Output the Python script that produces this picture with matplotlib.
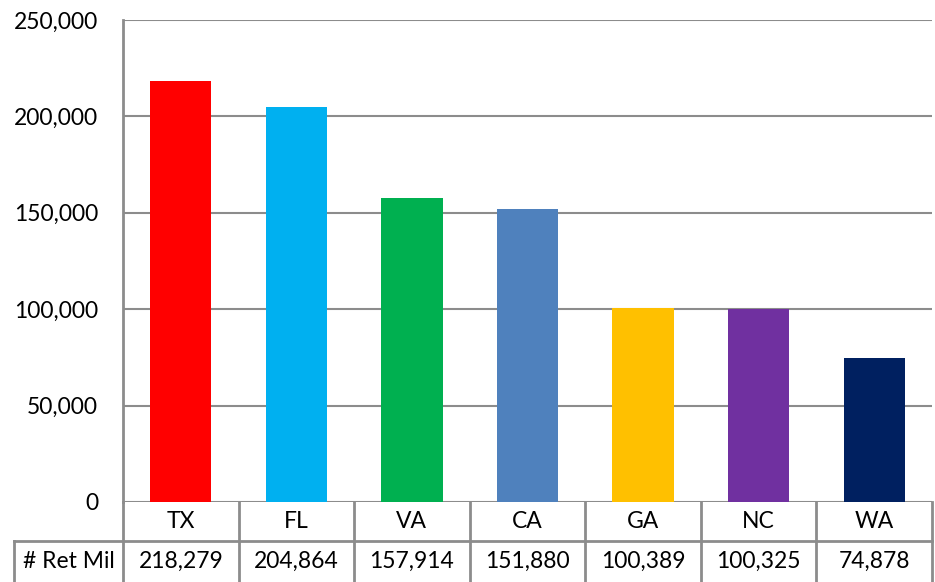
import matplotlib
matplotlib.use("Agg")
import matplotlib.pyplot as plt
from matplotlib.ticker import FuncFormatter

states = ["TX", "FL", "VA", "CA", "GA", "NC", "WA"]
retirees = [218279, 204864, 157914, 151880, 100389, 100325, 74878]
colors = ["#FF0000", "#00B0F0", "#00B050", "#4F81BD", "#FFC000", "#7030A0", "#002060"]
row_label = "# Ret Mil"
yticks = [0, 50000, 100000, 150000, 200000, 250000]

plt.rcParams["font.family"] = ["Lato", "DejaVu Sans"]
GRID = "#8c8c8c"
FS = 16.5

W, H = 935, 582
fig = plt.figure(figsize=(W / 100, H / 100), dpi=100)

# plot area in pixels: left 123, right 932, top 20, bottom 502
ax = fig.add_axes([123 / W, (H - 502) / H, (932 - 123) / W, (502 - 20) / H])
x = range(len(states))
ax.bar(x, retirees, width=0.53, color=colors, zorder=3)
ax.set_xlim(-0.5, len(states) - 0.5)
ax.set_ylim(0, 250000)
ax.set_yticks(yticks)
ax.yaxis.set_major_formatter(FuncFormatter(lambda v, _: f"{int(v):,}"))
ax.tick_params(axis="y", length=0, pad=18, labelsize=FS)
ax.tick_params(axis="x", length=0, labelbottom=False)
ax.grid(axis="y", color=GRID, linewidth=1.5, zorder=0)
for s in ["top", "right", "bottom"]:
    ax.spines[s].set_visible(False)
ax.spines["left"].set_color(GRID)
ax.spines["left"].set_linewidth(2)

# data table under the plot: category row + value row
tab = fig.add_axes([123 / W, 0, (932 - 123) / W, (582 - 502) / H], sharex=ax)
tab.set_ylim(0, 80)
tab.axis("off")
row_split = 80 - 39
lab_left = -0.5 - (123 - 14) / ((932 - 123) / len(states))
lw = 2
for i in range(len(states) + 1):
    tab.plot([i - 0.5, i - 0.5], [0, 80], color=GRID, lw=lw, clip_on=False)
tab.plot([lab_left, len(states) - 0.5], [row_split, row_split], color=GRID, lw=lw, clip_on=False)
tab.plot([lab_left, lab_left], [0, row_split], color=GRID, lw=lw, clip_on=False)
for i, (st, v) in enumerate(zip(states, retirees)):
    tab.text(i, (80 + row_split) / 2, st, ha="center", va="center", fontsize=FS)
    tab.text(i, row_split / 2, f"{v:,}", ha="center", va="center", fontsize=FS)
tab.text((lab_left - 0.5) / 2, row_split / 2, row_label, ha="center", va="center",
         fontsize=FS, clip_on=False)

fig.savefig("out.png", dpi=100)
